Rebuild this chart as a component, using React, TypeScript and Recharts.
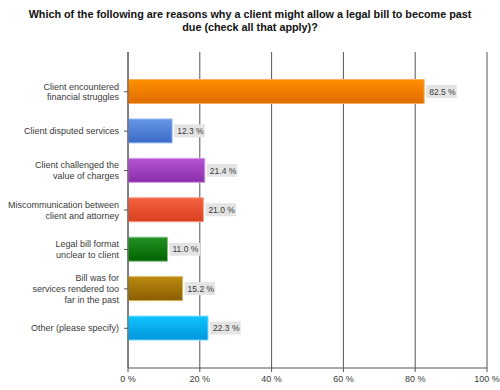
import { Bar, BarChart, CartesianGrid, Cell, LabelList, XAxis, YAxis } from "recharts";

const TITLE_LINES = [
  "Which of the following are reasons why a client might allow a legal bill to become past",
  "due (check all that apply)?",
];

const CATEGORIES = [
  "Client encountered\nfinancial struggles",
  "Client disputed services",
  "Client challenged the\nvalue of charges",
  "Miscommunication between\nclient and attorney",
  "Legal bill format\nunclear to client",
  "Bill was for\nservices rendered too\nfar in the past",
  "Other (please specify)",
];

const PERCENTS = [82.5, 12.3, 21.4, 21.0, 11.0, 15.2, 22.3];

const X_TICKS = [0, 20, 40, 60, 80, 100];

// top colour, bottom colour, outline
const BAR_COLORS: [string, string, string][] = [
  ["#ff9000", "#e06c00", "#ffb060"],
  ["#6696e6", "#3a6cc8", "#a0bff0"],
  ["#b655d6", "#8a2ea8", "#d49ae8"],
  ["#f5623f", "#d9401f", "#f8a08a"],
  ["#259125", "#006400", "#80c080"],
  ["#bb8a10", "#8a5e00", "#d8b860"],
  ["#10c4ff", "#0096dc", "#80e0ff"],
];

const data = CATEGORIES.map((name, i) => ({ name, value: PERCENTS[i] }));

const TEXT = "#3a3a3a";
const AXIS = "#555";
const FONT = "Liberation Sans, Arial, sans-serif";

function CategoryTick(props: any) {
  const { x, y, payload } = props;
  const lines = String(payload.value).split("\n");
  const lh = 10.8;
  const start = -((lines.length - 1) * lh) / 2;
  return (
    <text x={x - 3} y={y} textAnchor="end" fontSize={9} fill={TEXT} fontFamily={FONT}>
      {lines.map((line, i) => (
        <tspan key={i} x={x - 3} dy={i === 0 ? start + 3.2 : lh}>
          {line}
        </tspan>
      ))}
    </text>
  );
}

function ValueLabel(props: any) {
  const { x, y, width, height, value } = props;
  const label = `${Number(value).toFixed(1)} %`;
  const bx = x + width + 2;
  const cy = y + height / 2;
  const w = label.length * 4.6 + 3;
  return (
    <g>
      <rect x={bx} y={cy - 6.5} width={w} height={13} fill="#e4e4e4" />
      <text x={bx + 3} y={cy + 3.2} fontSize={8.5} fill={TEXT} fontFamily={FONT}>
        {label}
      </text>
    </g>
  );
}

export default function App() {
  return (
    <div style={{ position: "absolute", left: 0, top: 0, width: 500, height: 390, background: "#fff" }}>
      <svg width={0} height={0} style={{ position: "absolute" }}>
        <defs>
          {BAR_COLORS.map(([top, bottom], i) => (
            <linearGradient key={i} id={`barGrad${i}`} x1="0" y1="0" x2="0" y2="1">
              <stop offset="0%" stopColor={top} />
              <stop offset="100%" stopColor={bottom} />
            </linearGradient>
          ))}
        </defs>
      </svg>
      <div
        style={{
          position: "absolute",
          left: 0,
          top: 8,
          width: 500,
          textAlign: "center",
          fontFamily: FONT,
          fontWeight: "bold",
          fontSize: 10.8,
          lineHeight: "12.5px",
          color: "#111",
        }}
      >
        {TITLE_LINES.map((t, i) => (
          <div key={i}>{t}</div>
        ))}
      </div>
      <BarChart
        width={500}
        height={390}
        data={data}
        layout="vertical"
        margin={{ top: 52, right: 13, bottom: 2, left: 8 }}
        barCategoryGap="19%"
        style={{ position: "absolute", left: 0, top: 0 }}
      >
        <CartesianGrid horizontal={false} stroke={AXIS} strokeWidth={1} />
        <XAxis
          type="number"
          domain={[0, 100]}
          ticks={X_TICKS}
          tickFormatter={(v) => `${v} %`}
          height={20}
          tickSize={4}
          stroke={AXIS}
          tick={{ fontSize: 9, fill: TEXT, fontFamily: FONT, dy: 2 }}
        />
        <YAxis
          type="category"
          dataKey="name"
          width={120}
          tickSize={4}
          stroke={AXIS}
          padding={{ top: 20, bottom: 20 }}
          interval={0}
          tick={<CategoryTick />}
        />
        <Bar dataKey="value" isAnimationActive={false} strokeWidth={1}>
          {data.map((_, i) => (
            <Cell key={i} fill={`url(#barGrad${i})`} stroke={BAR_COLORS[i][2]} />
          ))}
          <LabelList dataKey="value" content={<ValueLabel />} />
        </Bar>
      </BarChart>
    </div>
  );
}
